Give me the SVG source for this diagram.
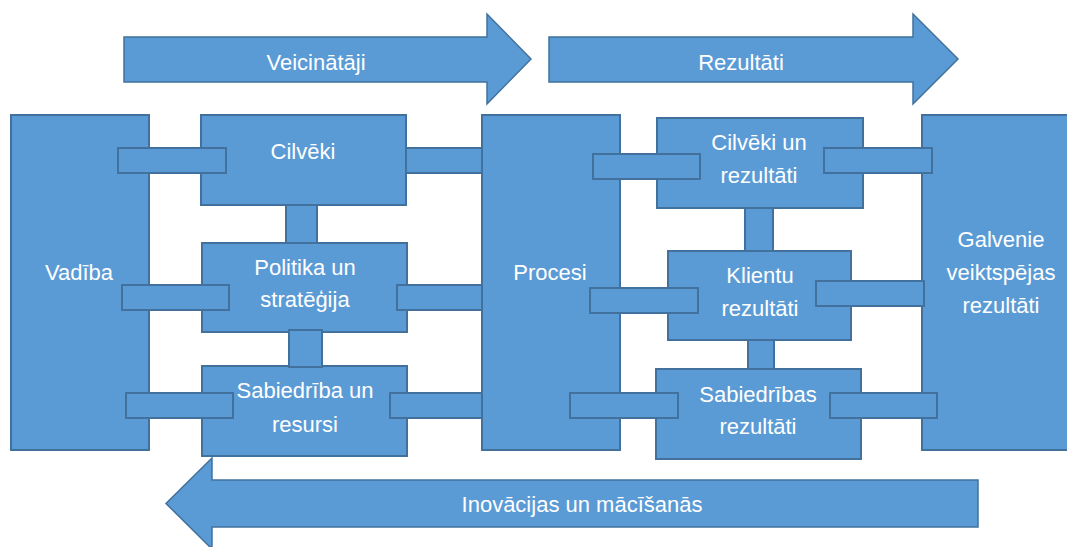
<svg xmlns="http://www.w3.org/2000/svg" width="1067" height="547" viewBox="0 0 1067 547">
<style>
.b{fill:#5B9BD5;stroke:#41719C;stroke-width:2}
.a{fill:#5B9BD5;stroke:#41719C;stroke-width:1.5}
.c{fill:#5B9BD5;stroke:#41719C;stroke-width:2}
.t{font-family:"Liberation Sans",Arial,sans-serif;font-size:22px;fill:#FFFFFF;text-anchor:middle}
</style>
<rect width="1067" height="547" fill="#FFFFFF"/>
<g id="arrow-veicinataji">
<polygon class="a" points="124,37 487,37 487,14 531,59 487,104 487,82 124,82"/>
<text class="t" x="316" y="70">Veicinātāji</text>
</g>
<g id="arrow-rezultati">
<polygon class="a" points="549,37 913,37 913,14 958,59 913,104 913,82 549,82"/>
<text class="t" x="741" y="70">Rezultāti</text>
</g>
<g id="arrow-inovacijas">
<polygon class="a" points="978,480 212,480 212,458 166,503.5 212,549 212,527 978,527"/>
<text class="t" x="582" y="512">Inovācijas un mācīšanās</text>
</g>
<g id="vadiba">
<rect class="b" x="11" y="115" width="138" height="335"/>
<text class="t" x="79" y="280">Vadība</text>
</g>
<g id="procesi">
<rect class="b" x="482" y="115" width="138" height="335"/>
<text class="t" x="550" y="280">Procesi</text>
</g>
<g id="galvenie">
<rect class="b" x="922" y="115" width="150" height="335"/>
<text class="t" x="1001" y="247">Galvenie</text>
<text class="t" x="1001" y="280">veiktspējas</text>
<text class="t" x="1001" y="313">rezultāti</text>
</g>
<g id="cilveki">
<rect class="b" x="201" y="115" width="205" height="90"/>
<text class="t" x="303" y="159">Cilvēki</text>
</g>
<g id="politika">
<rect class="b" x="202" y="243" width="205" height="89"/>
<text class="t" x="305" y="275">Politika un</text>
<text class="t" x="305" y="307">stratēģija</text>
</g>
<g id="sabiedriba-resursi">
<rect class="b" x="202" y="366" width="205" height="90"/>
<text class="t" x="305" y="398">Sabiedrība un</text>
<text class="t" x="305" y="432">resursi</text>
</g>
<g id="cilveki-rezultati">
<rect class="b" x="657" y="118" width="206" height="90"/>
<text class="t" x="759" y="150">Cilvēki un</text>
<text class="t" x="759" y="183">rezultāti</text>
</g>
<g id="klientu-rezultati">
<rect class="b" x="668" y="251" width="183" height="89"/>
<text class="t" x="760" y="283">Klientu</text>
<text class="t" x="760" y="316">rezultāti</text>
</g>
<g id="sabiedribas-rezultati">
<rect class="b" x="656" y="369" width="205" height="90"/>
<text class="t" x="758" y="402">Sabiedrības</text>
<text class="t" x="758" y="434">rezultāti</text>
</g>
<g id="connectors">
<rect class="c" x="118" y="148" width="108" height="25"/>
<rect class="c" x="406" y="148" width="76" height="25"/>
<rect class="c" x="286" y="205" width="31" height="38"/>
<rect class="c" x="122" y="285" width="107" height="25"/>
<rect class="c" x="397" y="285" width="85" height="25"/>
<rect class="c" x="289" y="330" width="33" height="37"/>
<rect class="c" x="126" y="393" width="107" height="25"/>
<rect class="c" x="390" y="393" width="92" height="25"/>
<rect class="c" x="593" y="154" width="107" height="25"/>
<rect class="c" x="824" y="148" width="108" height="25"/>
<rect class="c" x="745" y="208" width="28" height="43"/>
<rect class="c" x="590" y="288" width="108" height="25"/>
<rect class="c" x="816" y="281" width="108" height="25"/>
<rect class="c" x="748" y="340" width="26" height="29"/>
<rect class="c" x="570" y="393" width="108" height="25"/>
<rect class="c" x="830" y="393" width="107" height="25"/>
</g>
</svg>
